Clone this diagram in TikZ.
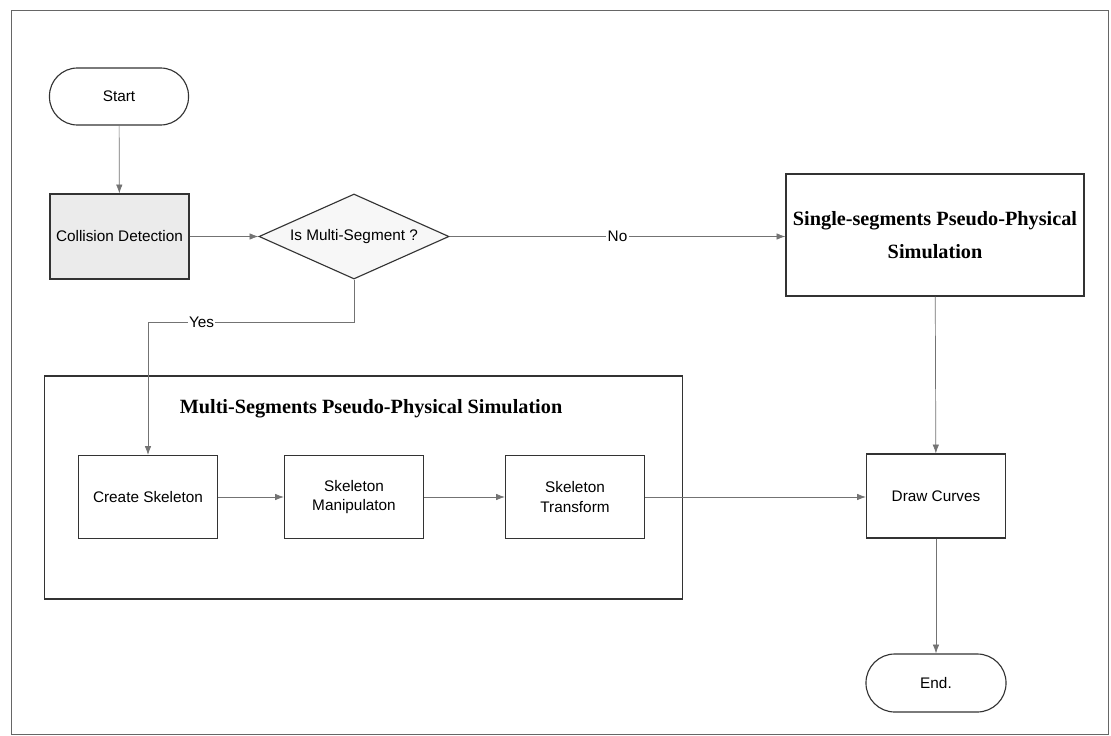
\documentclass[tikz,border=0pt]{standalone}
\usepackage{fontspec}
\setmainfont{Liberation Sans}
\newfontfamily\titlefont{Liberation Serif}
\usetikzlibrary{shapes.geometric, arrows.meta}

\begin{document}
\begin{tikzpicture}[x=0.025cm, y=-0.025cm,
        every node/.style={font=\fontsize{10.9}{14}\selectfont},
        box/.style={draw=black!80, line width=0.8pt, minimum width=3.475cm, minimum height=2.1cm, align=center, inner sep=2pt},
        term/.style={draw=black!80, line width=0.8pt, rounded corners=0.7cm, minimum width=3.475cm, minimum height=1.425cm},
        flow/.style={draw=black!55, line width=0.5pt, -{Latex[length=2.2mm, width=1.6mm]}},
        bigtext/.style={font=\titlefont\bfseries\fontsize{14.4}{24}\selectfont}]
            \fill[white] (0,0) rectangle (1111,736);
            \useasboundingbox (0,0) rectangle (1111,736);
            \draw[black!60, line width=0.6pt] (11,10) rectangle (1108,734);

            % upper row
            \node[term] (start) at (119,96.5) {Start};
            \node[box, fill=black!8, minimum height=2.125cm] (coldet) at (119.5,236.5) {Collision Detection};
            \node[draw=black!80, line width=0.8pt, shape=diamond, aspect=2.235, fill=black!3, inner sep=0pt,
                minimum width=4.75cm, minimum height=2.125cm] (ismulti) at (354,236.5) {Is Multi-Segment ?};
            \node[box, bigtext, minimum width=7.45cm, minimum height=3.05cm] (single) at (935,235)
                {Single-segments Pseudo-Physical\\Simulation};

            % multi-segment block
            \node[draw=black!80, line width=0.8pt, minimum width=15.925cm, minimum height=5.575cm] (multibox) at (363.5,487.5) {};
            \node[bigtext] (multititle) at (371,409) {Multi-Segments Pseudo-Physical Simulation};
            \node[box, minimum height=2.075cm] (create) at (148,497) {Create Skeleton};
            \node[box, minimum height=2.075cm] (manip) at (354,497) {Skeleton\\Manipulaton};
            \node[box, minimum height=2.075cm] (transf) at (575,497) {Skeleton\\Transform};

            % right column
            \node[box] (curves) at (936,496) {Draw Curves};
            \node[term, minimum width=3.5cm, minimum height=1.45cm, rounded corners=0.72cm] (finish) at (936,683) {End.};

            % connectors
            \draw[flow] (start) -- (coldet);
            \draw[flow] (coldet) -- (ismulti);
            \draw[flow] (ismulti.east) -- node[pos=0.5, fill=white, inner sep=1pt]{No} (single.west |- ismulti.east);
            \draw[flow] (ismulti.south) -- ++(0,43) -| node[pos=0.37, fill=white, inner sep=1pt]{Yes} (create.north);
            \draw[flow] (create) -- (manip);
            \draw[flow] (manip) -- (transf);
            \draw[flow] (transf.east) -- (curves.west |- transf.east);
            \draw[flow] (single) -- (curves);
            \draw[flow] (curves) -- (finish);
        \end{tikzpicture}
\end{document}
